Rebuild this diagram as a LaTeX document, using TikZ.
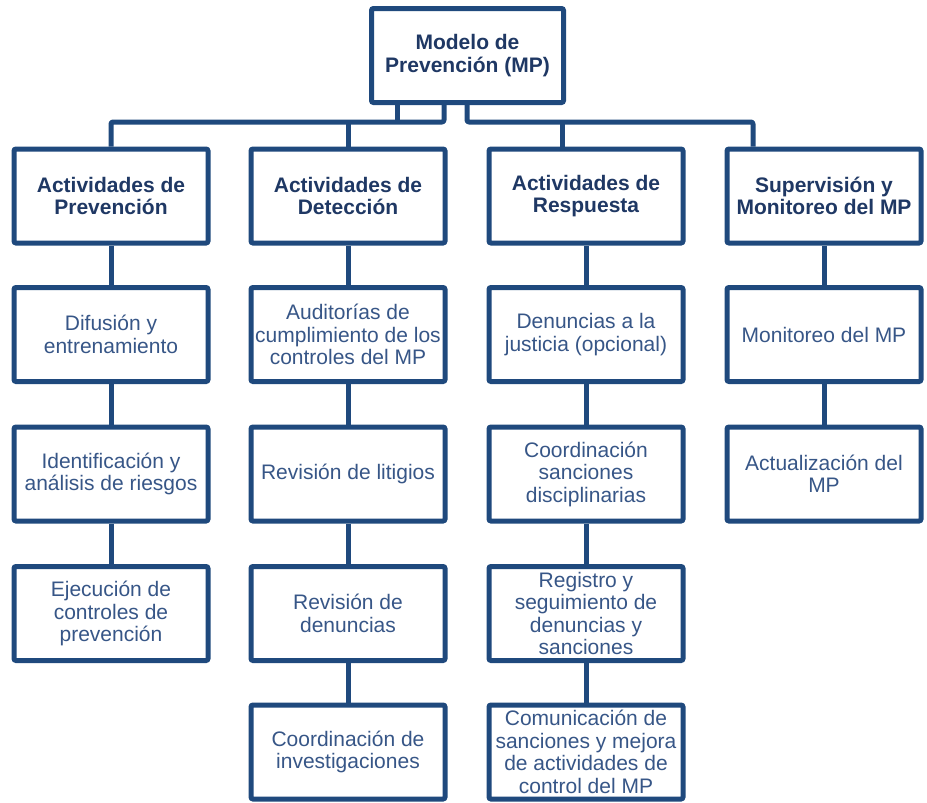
\documentclass[tikz,border=0pt]{standalone}
\usepackage{fontspec}
\setmainfont{Liberation Sans}
\definecolor{boxline}{RGB}{31,73,125}
\definecolor{titletext}{RGB}{31,56,100}
\definecolor{bodytext}{RGB}{55,86,135}
\tikzset{
  x=1pt, y=-1pt,
  box/.style={draw=boxline, line width=5pt, fill=white, rounded corners=2pt,
    minimum width=194pt, minimum height=94pt, align=center, inner sep=1pt,
    font=\fontsize{21}{22.5}\selectfont, text=bodytext},
  headbox/.style={box, font=\fontsize{21}{22.5}\selectfont\bfseries, text=titletext},
  link/.style={draw=boxline, line width=5pt, line join=round, rounded corners=2pt}
}
\begin{document}
\begin{tikzpicture}
\useasboundingbox (0,0) rectangle (927,803);
% top
\node[headbox, minimum width=192pt] (top) at (467.5,55.5) {Modelo de\\Prevención (MP)};
% row 1
\node[headbox] (p1) at (111,196) {Actividades de\\Prevención};
\node[headbox] (d1) at (348,196) {Actividades de\\Detección};
\node[headbox] (r1) at (586,196) {Actividades de\\Respuesta};
\node[headbox] (s1) at (824,196) {Supervisión y\\Monitoreo del MP};
% junction coordinates
\coordinate (ja) at (397,122);
\coordinate (jb) at (444,122);
\coordinate (jc) at (467,122);
\coordinate (jl) at (111,122);
\coordinate (jd) at (348,122);
\coordinate (jr) at (562,122);
\coordinate (js) at (753,122);
% connectors from top
\draw[link] (ja |- top.south) -- (ja);
\draw[link] (jb |- top.south) -- (jb) -- (jl) -- (jl |- p1.north);
\draw[link] (jd) -- (jd |- d1.north);
\draw[link] (jc |- top.south) -- (jc) -- (js) -- (js |- s1.north);
\draw[link] (jr) -- (jr |- r1.north);
% column 1
\node[box] (p2) at (111,334.5) {Difusión y\\entrenamiento};
\node[box] (p3) at (111,474) {Identificación y\\análisis de riesgos};
\node[box] (p4) at (111,613.5) {Ejecución de\\controles de\\prevención};
% column 2
\node[box] (d2) at (348,334.5) {Auditorías de\\cumplimiento de los\\controles del MP};
\node[box] (d3) at (348,474) {Revisión de litigios};
\node[box] (d4) at (348,613.5) {Revisión de\\denuncias};
\node[box] (d5) at (348,752) {Coordinación de\\investigaciones};
% column 3
\node[box] (r2) at (586,334.5) {Denuncias a la\\justicia (opcional)};
\node[box] (r3) at (586,474) {Coordinación\\sanciones\\disciplinarias};
\node[box] (r4) at (586,613.5) {Registro y\\seguimiento de\\denuncias y\\sanciones};
\node[box] (r5) at (586,752) {Comunicación de\\sanciones y mejora\\de actividades de\\control del MP};
% column 4
\node[box] (s2) at (824,334.5) {Monitoreo del MP};
\node[box] (s3) at (824,474) {Actualización del\\MP};
% vertical links
\foreach \a/\b in {p1/p2,p2/p3,p3/p4,d1/d2,d2/d3,d3/d4,d4/d5,r1/r2,r2/r3,r3/r4,r4/r5,s1/s2,s2/s3}
  \draw[link] (\a.south) -- (\b.north);
\end{tikzpicture}
\end{document}
